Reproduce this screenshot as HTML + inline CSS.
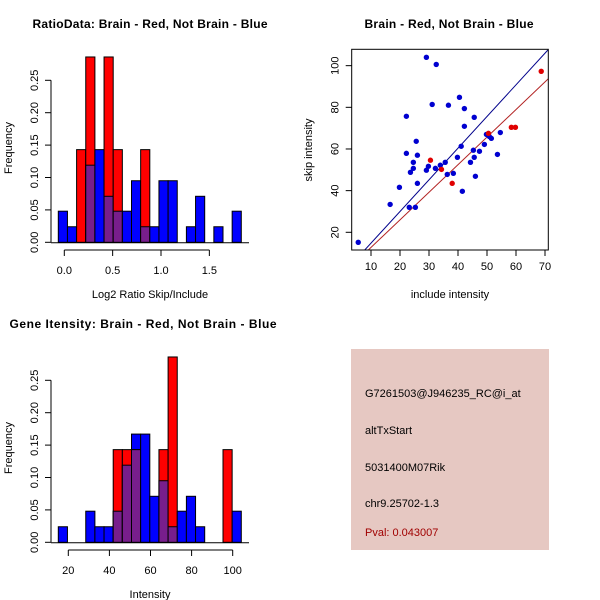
<!DOCTYPE html>
<html><head><meta charset="utf-8"><style>
body{margin:0;background:#fff}
svg{display:block;font-family:"Liberation Sans",sans-serif}
</style></head><body>
<svg id="s" width="600" height="600"></svg>
<script>
// Ratio histogram data (bins of equal width, starting at -0.062)
const ratioBlue=[0.048,0.024,0,0.119,0.143,0.071,0.048,0.048,0.095,0.024,0.024,0.095,0.095,0,0.024,0.071,0,0.024,0,0.048];
const ratioRed=[0,0,0.143,0.286,0,0.286,0.143,0,0,0.143,0,0,0,0,0,0,0,0,0,0];
const ratioTicks=[0,0.5,1,1.5];
const ratioTickLabels=["0.0","0.5","1.0","1.5"];
// Intensity histogram data
const intBlue=[0.024,0,0,0.048,0.024,0.024,0.048,0.119,0.167,0.167,0.071,0.095,0.024,0.048,0.071,0.024,0,0,0,0.048];
const intRed=[0,0,0,0,0,0,0.143,0.143,0.143,0,0,0.143,0.286,0,0,0,0,0,0.143,0];
const intTicks=[20,40,60,80,100];
const freqTicks=[0,0.05,0.1,0.15,0.2,0.25];
const freqLabels=["0.00","0.05","0.10","0.15","0.20","0.25"];
// Scatter data
const blueX=[5.6,16.6,19.8,22.2,22.2,23.2,23.6,24.6,24.6,25.3,25.6,26.0,26.0,29.1,29.1,29.8,31.1,32.2,32.5,33.9,35.6,36.3,36.7,38.4,39.8,40.5,41.1,41.5,42.2,42.2,44.3,45.3,45.6,45.6,46.0,47.4,49.1,49.8,50.8,51.5,53.6,54.6];
const blueY=[15.2,33.4,41.6,75.7,57.9,32,48.8,53.6,50.7,32,63.7,57,43.5,104,49.8,51.7,81.4,50.7,100.6,52.2,53.6,47.8,81,48.3,56,84.8,61.3,39.7,79.4,70.9,53.6,59.4,75.2,56,46.9,58.9,62.2,67,66,65.1,57.4,67.9];
const redX=[30.5,34.3,38.0,50.5,58.4,59.8,68.7];
const redY=[54.6,50.2,43.5,67.5,70.4,70.4,97.3];
const blueFit=[-0.4,1.52]; // intercept, slope
const redFit=[-0.5,1.324];
const scXTicks=[10,20,30,40,50,60,70];
const scYTicks=[20,40,60,80,100];

const S=document.getElementById('s'),NS='http://www.w3.org/2000/svg';
function mk(t,a,p){const e=document.createElementNS(NS,t);for(const k in a)e.setAttribute(k,a[k]);(p||S).appendChild(e);return e;}
function txt(x,y,s,o){o=o||{};const e=mk('text',Object.assign({x:x,y:y,'font-size':o.fs||11,'text-anchor':o.anchor||'middle',fill:o.fill||'#000'},o.extra||{}));if(o.w)e.setAttribute('textLength',o.w);if(o.bold)e.setAttribute('font-weight','bold');if(o.rot)e.setAttribute('transform','rotate(-90 '+x+' '+y+')');e.textContent=s;return e;}

function hist(oy,blue,red,x0,bw,xs,ticks,labels,xlab,title,titleCx,titleW,name){
  const fy=v=>oy+242.3-v*648;
  const g=mk('g',{});
  
  
  const X0=58.3,BW=9.15;
  blue.forEach((b,i)=>{const r=red[i];const x=X0+i*BW;
    if(b>0){const e=mk('rect',{x:x,y:fy(b),width:BW,height:b*648,fill:'#0000ff',stroke:'#000','stroke-width':1},g);}
    if(r>0){const e=mk('rect',{x:x,y:fy(r),width:BW,height:r*648,fill:'#ff0000',stroke:'#000','stroke-width':1},g);}
    const m=Math.min(b,r);if(m>0){const e=mk('rect',{x:x,y:fy(m),width:BW,height:m*648,fill:'#781e8c',stroke:'#000','stroke-width':1},g);}
  });
  mk('line',{x1:51,x2:51,y1:fy(0),y2:fy(0.25),stroke:'#000'},g);
  freqTicks.forEach((v,i)=>{mk('line',{x1:45,x2:51,y1:fy(v),y2:fy(v),stroke:'#000'},g);const t=txt(38,fy(v),freqLabels[i],{fs:11,rot:true});});
  mk('line',{x1:51,x2:249,y1:fy(0)+0.5,y2:fy(0)+0.5,stroke:'#000'},g);
  const px=ticks.map(xs);
  mk('line',{x1:px[0],x2:px[px.length-1],y1:oy+250,y2:oy+250,stroke:'#000'},g);
  ticks.forEach((v,i)=>{mk('line',{x1:px[i],x2:px[i],y1:oy+250,y2:oy+256,stroke:'#000'},g);const t=txt(px[i],oy+274,labels[i],{fs:11});});
  const xl=txt(150,oy+298,xlab,{fs:11});
  const yl=txt(12,oy+148,'Frequency',{fs:11,rot:true});
  const tt=txt(titleCx,oy+28,title,{fs:12,bold:true,w:titleW});
}
hist(0,ratioBlue,ratioRed,0,0,v=>64.3+v*96.7,ratioTicks,ratioTickLabels,'Log2 Ratio Skip/Include','RatioData: Brain - Red, Not Brain - Blue',150,235,'ratio-histogram');
hist(300,intBlue,intRed,0,0,v=>68.3+(v-20)*2.055,intTicks,intTicks.map(String),'Intensity','Gene Itensity: Brain - Red, Not Brain - Blue',143,267,'intensity-histogram');

(function(){
  const L=351.7,R=548.3,T=49.3,B=250;
  const sx=v=>371+(v-10)*2.9, sy=v=>232.3-(v-20)*2.083;
  const g=mk('g',{});
  
  
  const cp=mk('clipPath',{id:'cp'},g);
  mk('rect',{x:L,y:T,width:R-L,height:B-T},cp);
  [[blueFit,'#00008b','blue-fit-line'],[redFit,'#b22222','red-fit-line']].forEach(([f,c,n])=>{const x1=0,x2=80;const e=mk('line',{x1:sx(x1),y1:sy(f[0]+f[1]*x1),x2:sx(x2),y2:sy(f[0]+f[1]*x2),stroke:c,'stroke-width':1,'clip-path':'url(#cp)'},g);});
  blueX.forEach((x,i)=>{const e=mk('circle',{cx:sx(x),cy:sy(blueY[i]),r:2.7,fill:'#0000d0'},g);});
  redX.forEach((x,i)=>{const e=mk('circle',{cx:sx(x),cy:sy(redY[i]),r:2.7,fill:'#e00000'},g);});
  mk('rect',{x:L,y:T,width:R-L,height:B-T,fill:'none',stroke:'#000'},g);
  scXTicks.forEach(v=>{mk('line',{x1:sx(v),x2:sx(v),y1:B,y2:B+6,stroke:'#000'},g);const t=txt(sx(v),B+20,String(v),{fs:11});});
  scYTicks.forEach(v=>{mk('line',{x1:L-6,x2:L,y1:sy(v),y2:sy(v),stroke:'#000'},g);const t=txt(L-13,sy(v),String(v),{fs:11,rot:true});});
  const xl=txt(450,298,'include intensity',{fs:11});
  const yl=txt(312,150,'skip intensity',{fs:11,rot:true});
  const tt=txt(449,28,'Brain - Red, Not Brain - Blue',{fs:12,bold:true,w:169});
})();

(function(){
  const g=mk('g',{});
  
  
  mk('rect',{x:351,y:349,width:198,height:201,fill:'#e6c8c2'},g);
  const lines=[['G7261503@J946235_RC@i_at',397,'#000','probe-id'],['altTxStart',434,'#000','event-type'],['5031400M07Rik',471,'#000','gene-name'],['chr9.25702-1.3',507,'#000','location'],['Pval: 0.043007',536,'#a00000','p-value']];
  lines.forEach(l=>{const t=txt(365,l[1],l[0],{fs:11,anchor:'start',fill:l[2]});});
})();
</script>
</body></html>
